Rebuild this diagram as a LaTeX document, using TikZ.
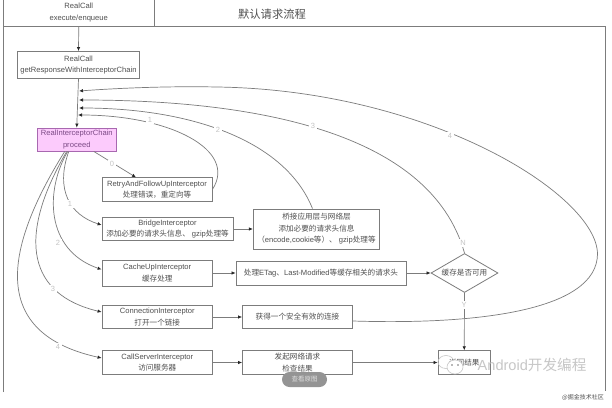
\documentclass[tikz,border=0pt]{standalone}
\usepackage{fontspec}
\setmainfont{Liberation Sans}
\newfontfamily\zhf{Noto Sans CJK SC}
\newcommand{\zh}[1]{{\zhf #1}}
\usetikzlibrary{arrows.meta,shapes.geometric,calc}
\definecolor{ln}{HTML}{7C7C7C}
\definecolor{tx}{HTML}{505050}
\definecolor{lb}{HTML}{C4C4C4}
\definecolor{pinkf}{HTML}{FCCBFC}
\definecolor{pinkd}{HTML}{A868B0}
\definecolor{pinkt}{HTML}{7C4A86}
\tikzset{
  bx/.style={draw=ln,line width=.8pt,fill=white,inner sep=0pt,align=center,text=tx,font=\fontsize{7.6}{11.5}\selectfont},
  ar/.style={draw=ln,line width=.7pt,-{Latex[length=4pt,width=3.5pt,color=black!85]}},
  lab/.style={fill=white,text=lb,inner sep=1.5pt,font=\fontsize{7.5}{9}\selectfont},
  wmk/.style={draw=black!22,line width=.6pt},
}
\begin{document}
\begin{tikzpicture}[x=1pt,y=-1pt]
\useasboundingbox (0,0) rectangle (612,407);
\fill[white] (0,0) rectangle (612,407);
% frame
\coordinate (fbl) at (3.5,392); \coordinate (ftl) at (3.5,26); \coordinate (ftr) at (605.5,26); \coordinate (fbr) at (605.5,391);
\draw[ln,line width=.9pt] (fbl) -- (ftl) -- (ftr) -- (fbr);
\node[text=tx,font=\zhf\fontsize{11.3}{12}\selectfont,inner sep=0pt] (title) at (272,14) {默认请求流程};
% boxes
\node[bx,minimum width=150.5pt,minimum height=28pt] (exec) at (78.75,12.5) {RealCall\\execute/enqueue};
\node[bx,minimum width=122pt,minimum height=27pt] (grc) at (78.5,65) {RealCall\\getResponseWithInterceptorChain};
\node[bx,draw=pinkd,fill=pinkf,minimum width=78.5pt,minimum height=23pt,text=pinkt] (ric) at (76.75,139.5) {RealInterceptorChain\\proceed};
\node[bx,minimum width=110pt,minimum height=23.5pt] (retry) at (157,189.5) {RetryAndFollowUpInterceptor\\\zh{处理错误，重定向等}};
\node[bx,minimum width=131pt,minimum height=23.5pt] (bridge) at (167.5,229) {BridgeInterceptor\\\zh{添加必要的请求头信息、} gzip\zh{处理等}};
\node[bx,minimum width=126.5pt,minimum height=40pt] (bridgeD) at (316.5,229) {\zh{桥接应用层与网络层}\\\zh{添加必要的请求头信息}\\\zh{（}encode,cookie\zh{等）、} gzip\zh{处理等}};
\node[bx,minimum width=110.5pt,minimum height=26pt] (cache) at (157.25,273) {CacheUpInterceptor\\\zh{缓存处理}};
\node[bx,minimum width=170pt,minimum height=24pt] (cacheD) at (321,273) {\zh{处理}ETag\zh{、}Last-Modified\zh{等缓存相关的请求头}};
\node[bx,minimum width=110.5pt,minimum height=23pt] (conn) at (157.25,317) {ConnectionInterceptor\\\zh{打开一个链接}};
\node[bx,minimum width=110pt,minimum height=23pt] (connD) at (297.5,317) {\zh{获得一个安全有效的连接}};
\node[bx,minimum width=110.5pt,minimum height=24pt] (call) at (157.25,362.5) {CallServerInterceptor\\\zh{访问服务器}};
\node[bx,minimum width=110pt,minimum height=24pt] (callD) at (297.5,362.5) {\zh{发起网络请求}\\\zh{检查结果}};
\node[bx,shape=diamond,aspect=1.72,minimum width=67pt,minimum height=39pt] (dia) at (464.5,273) {\zh{缓存是否可用}};
\node[bx,minimum width=52.5pt,minimum height=23.5pt] (endb) at (464.25,362.5) {\zh{返回结果}};
% return points
\coordinate (r4) at (79,91); \coordinate (r3) at (79,100); \coordinate (r2) at (79,108); \coordinate (r1) at (78,115);
% straight
\draw[ar] (exec.south) -- (grc.north);
\draw[ar] (grc.south) -- (ric.north);
\draw[ar] (bridge.east) -- (bridgeD.west);
\draw[ar] (cache.east) -- (cacheD.west);
\draw[ar] (conn.east) -- (connD.west);
\draw[ar] (call.east) -- (callD.west);
\draw[ar] (cacheD.east) -- (dia.west);
\draw[ar] (dia.south) -- (endb.north);
\draw[ar] (callD.east) -- (endb.west);
% fan
\draw[ar] ([xshift=17pt]ric.south) -- ([xshift=-21pt]retry.north);
\draw[ar] ([xshift=-8pt]ric.south) .. controls (55,190) and (70,215) .. ([yshift=4pt]bridge.west);
\draw[ar] ([xshift=-9pt]ric.south) .. controls (45,190) and (45,250) .. ([yshift=3.5pt]cache.west);
\draw[ar] ([xshift=-10pt]ric.south) .. controls (15,240) and (30,295) .. ([yshift=5pt]conn.west);
\draw[ar] ([xshift=-12pt]ric.south) .. controls (-3,260) and (-3,335) .. ([yshift=4.5pt]call.west);
% returns
\draw[ar] (retry.east) .. controls (238,150) and (170,115) .. (r1);
\draw[ar] ([xshift=-4pt]bridgeD.north) .. controls (285,140) and (190,108) .. (r2);
\draw[ar] (dia.north) .. controls (430,130) and (250,100) .. (r3);
\draw[ar] ([yshift=-4pt]connD.east) .. controls (480,325) and (597,310) .. (597.5,254) .. controls (597,195) and (430,90) .. (217,87) .. controls (170,86) and (120,88) .. (r4);
% labels
\node[lab] (n0) at (112,164) {0};
\node[lab] (a1) at (70,204) {1};
\node[lab] (a2) at (58,243) {2};
\node[lab] (a3) at (53,289) {3};
\node[lab] (a4) at (58,347) {4};
\node[lab] (b1) at (150,120) {1};
\node[lab] (b2) at (218,130) {2};
\node[lab] (b3) at (313,126) {3};
\node[lab] (b4) at (450,136) {4};
\node[lab] (ln) at (463,243) {N};
\node[lab] (ly) at (464,305) {Y};
% overlays
\node[fill=black!42,rounded corners=7.5pt,minimum width=45pt,minimum height=15pt,inner sep=0pt,text=black!12,font=\zhf\fontsize{6.5}{7}\selectfont] (pill) at (304.5,379.5) {查看原图};
\node[inner sep=0pt,text=black!22,font=\fontsize{14.6}{18}\selectfont] (wm) at (532,365) {Android\zh{开发编程}};
\draw[wmk] (446,362) ellipse (8pt and 6.5pt);
\draw[wmk,fill=white] (455,367) ellipse (8pt and 7pt);
\fill[black!55] (452,365) circle (.8pt) (458,365) circle (.8pt);
\node[inner sep=0pt,text=tx,font=\zhf\fontsize{6}{7}\selectfont] (site) at (583,397) {@掘金技术社区};
\end{tikzpicture}
\end{document}
